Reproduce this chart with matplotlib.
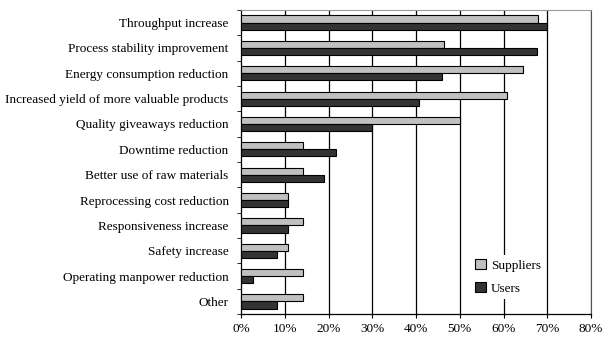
import matplotlib.pyplot as plt
import numpy as np

categories = [
    "Throughput increase",
    "Process stability improvement",
    "Energy consumption reduction",
    "Increased yield of more valuable products",
    "Quality giveaways reduction",
    "Downtime reduction",
    "Better use of raw materials",
    "Reprocessing cost reduction",
    "Responsiveness increase",
    "Safety increase",
    "Operating manpower reduction",
    "Other",
]
suppliers = [68.0, 46.3, 64.5, 60.8, 50.0, 14.1, 14.1, 10.6, 14.1, 10.6, 14.1, 14.1]
users = [70.0, 67.7, 46.0, 40.6, 30.0, 21.6, 18.9, 10.6, 10.6, 8.2, 2.7, 8.2]
xticks = [0, 10, 20, 30, 40, 50, 60, 70, 80]

plt.rcParams["font.family"] = ["Liberation Serif", "DejaVu Serif"]

fig = plt.figure(figsize=(6.03, 3.40), dpi=100)
ax = fig.add_axes([0.40, 0.076, 0.58, 0.895])

n = len(categories)
y = np.arange(n)
h = 0.28
ax.barh(y - h / 2, suppliers, height=h, color="#c0c0c0", edgecolor="black", lw=0.8, label="Suppliers", zorder=3)
ax.barh(y + h / 2, users, height=h, color="#333333", edgecolor="black", lw=0.8, label="Users", zorder=3)

ax.set_xlim(0, 80)
ax.set_ylim(n - 0.5, -0.5)
ax.set_xticks(xticks)
ax.set_xticklabels([f"{v}%" for v in xticks], fontsize=9.5)
ax.set_yticks(y)
ax.set_yticklabels(categories, fontsize=9.5)
ax.set_yticks(np.arange(-0.5, n, 1.0), minor=True)
ax.tick_params(axis="y", which="major", length=0, pad=9)
ax.tick_params(axis="y", which="minor", length=3, direction="out")
ax.tick_params(axis="x", length=3, direction="out")

for v in xticks[1:]:
    ax.axvline(v, color="black", lw=0.9, zorder=1)

ax.spines["top"].set_color("#999999")
ax.spines["right"].set_color("#555555")
ax.spines["left"].set_linewidth(0.9)
ax.spines["bottom"].set_linewidth(0.9)

leg = ax.legend(loc="lower right", bbox_to_anchor=(0.868, 0.05), fontsize=9.5,
                frameon=True, framealpha=1, edgecolor="none", fancybox=False,
                handlelength=0.8, handleheight=0.8, handletextpad=0.4, labelspacing=0.8,
                borderpad=0.3, borderaxespad=0)
leg.set_zorder(5)

fig.savefig("out.png", dpi=100)
